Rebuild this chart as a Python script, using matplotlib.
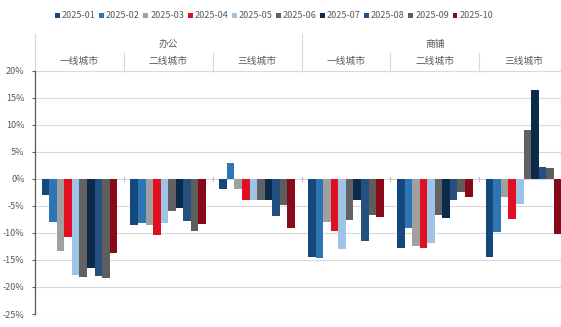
# -*- coding: utf-8 -*-
# 办公/商铺 分城市能级 各月同比 柱状图

import numpy as np
import matplotlib
matplotlib.use('Agg')
import matplotlib.pyplot as plt
import matplotlib.transforms as mtransforms

plt.rcParams['font.family'] = ['Noto Sans CJK SC', 'DejaVu Sans']
plt.rcParams['axes.unicode_minus'] = False

# 数据
months = ['2025-01', '2025-02', '2025-03', '2025-04', '2025-05',
          '2025-06', '2025-07', '2025-08', '2025-09', '2025-10']
types = ['办公', '商铺']
tiers = ['一线城市', '二线城市', '三线城市']

# 每个月在6个分组上的数值（办公一/二/三线，商铺一/二/三线），单位%
v_01 = [-3.0, -8.6, -1.8, -14.4, -12.8, -14.4]
v_02 = [-8.0, -8.1, 2.9, -14.7, -9.1, -9.8]
v_03 = [-13.4, -8.6, -1.9, -7.9, -12.4, -3.3]
v_04 = [-10.8, -10.4, -3.9, -9.7, -12.8, -7.4]
v_05 = [-17.8, -8.2, -3.9, -12.9, -11.9, -4.6]
v_06 = [-18.1, -5.9, -3.9, -7.7, -6.7, 9.1]
v_07 = [-16.5, -5.4, -4.0, -4.0, -7.3, 16.4]
v_08 = [-18.0, -7.8, -6.9, -11.5, -4.0, 2.2]
v_09 = [-18.3, -9.7, -4.9, -6.6, -2.5, 2.0]
v_10 = [-13.8, -8.3, -9.1, -7.0, -3.3, -10.2]
values = [v_01, v_02, v_03, v_04, v_05, v_06, v_07, v_08, v_09, v_10]

colors = ['#15477C', '#2E75B6', '#A0A0A0', '#E01020', '#9DC3E6',
          '#626262', '#0C2A4C', '#23507F', '#5E5E5E', '#880A18']

fig = plt.figure(figsize=(5.61, 3.27), dpi=100)
W, H = 561.0, 327.0
ax_h = 243.3
ax = fig.add_axes([35 / W, 13 / H, (568 - 35) / W, ax_h / H])

n_groups = 6
index = np.arange(n_groups) + 0.5
bar_width = 0.085

for i in range(len(months)):
    ax.bar(index + (i - 4.5) * bar_width, values[i], bar_width,
           color=colors[i], label=months[i], zorder=3)

ax.set_xlim(0, n_groups)
ax.set_ylim(-25, 20)
ax.set_yticks(np.arange(-25, 21, 5))
ax.set_yticklabels(['%d%%' % t for t in np.arange(-25, 21, 5)])
ax.set_xticks([])
ax.yaxis.grid(True, color='#D9D9D9', linewidth=0.8, zorder=0)
ax.tick_params(axis='y', labelsize=6.5, labelcolor='#595959', color='#595959',
               length=2.5, width=0.8, pad=5)
for s in ['top', 'right', 'bottom']:
    ax.spines[s].set_visible(False)
ax.spines['left'].set_color('#595959')
ax.spines['left'].set_linewidth(0.9)

# 零线处的分类刻度
for k in range(1, n_groups):
    ax.plot([k, k], [-0.35, 0.35], color='#BFBFBF', lw=0.8, zorder=2)

# 表头：两行分类
trans = mtransforms.blended_transform_factory(ax.transData, ax.transAxes)
hh = 1.0 / ax_h  # 每像素对应的轴坐标
ax.plot([0, 6], [1, 1], color='#D9D9D9', lw=0.8, transform=trans, clip_on=False)
for k in [0, 3]:
    ax.plot([k, k], [1, 1 + 37 * hh], color='#D9D9D9', lw=0.8,
            transform=trans, clip_on=False)
for k in [1, 2, 4, 5]:
    ax.plot([k, k], [1, 1 + 18 * hh], color='#D9D9D9', lw=0.8,
            transform=trans, clip_on=False)
for t in range(2):
    ax.text(t * 3 + 1.5, 1 + 27 * hh, types[t], transform=trans,
            ha='center', va='center', fontsize=7, color='#595959')
    for j in range(3):
        ax.text(t * 3 + j + 0.5, 1 + 10 * hh, tiers[j], transform=trans,
                ha='center', va='center', fontsize=7, color='#595959')

leg = fig.legend(loc='center', bbox_to_anchor=(274 / W, 1 - 16 / H), ncol=10,
                 frameon=False, fontsize=6.5, handlelength=0.55, handleheight=0.55,
                 handletextpad=0.2, columnspacing=0.4, borderaxespad=0)
for t in leg.get_texts():
    t.set_color('#595959')

plt.savefig('out.png', dpi=100)
